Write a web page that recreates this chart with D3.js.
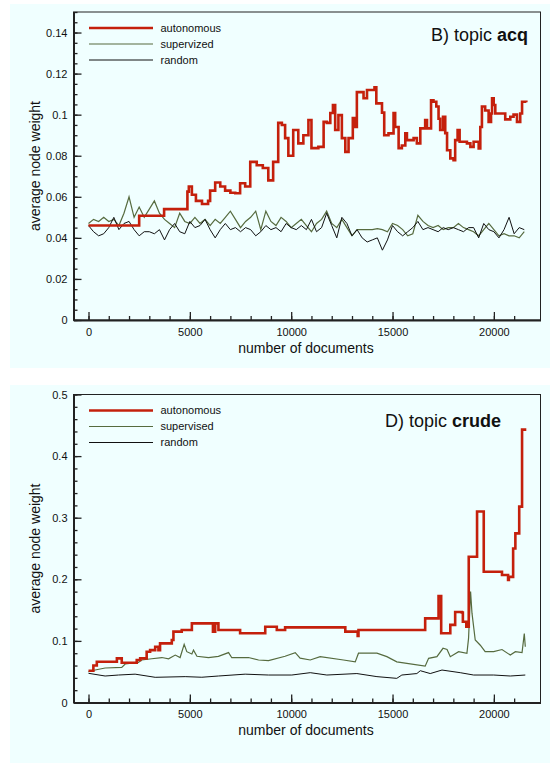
<!DOCTYPE html>
<html>
<head>
<meta charset="utf-8">
<script src="https://cdn.jsdelivr.net/npm/d3@7"></script>
<style>
  body { margin: 0; background: #fff; }
  text { font-family: "Liberation Sans", Arial, Helvetica, sans-serif; fill: #111; }
</style>
</head>
<body>
<script>
// ---- data ----

// shared x sampling for the noisy "acq" curves
var acqDocs = [0,250,500,750,1000,1250,1500,1750,2000,2250,2500,2750,3000,3250,3500,3750,4000,4250,4500,4750,
  5000,5250,5500,5750,6000,6250,6500,6750,7000,7250,7500,7750,8000,8250,8500,8750,9000,9250,9500,9750,
  10000,10250,10500,10750,11000,11250,11500,11750,12000,12250,12500,12750,13000,13250,13500,13750,14000,14250,14500,14750,
  15000,15250,15500,15750,16000,16250,16500,16750,17000,17250,17500,17750,18000,18250,18500,18750,19000,19250,19500,19750,
  20000,20250,20500,20750,21000,21250,21500];

var acqSupervised = [0.047,0.049,0.048,0.050,0.048,0.049,0.046,0.052,0.060,0.050,
  0.055,0.050,0.054,0.058,0.052,0.049,0.047,0.045,0.052,0.048,
  0.047,0.050,0.047,0.049,0.046,0.049,0.047,0.050,0.053,0.049,
  0.045,0.048,0.050,0.053,0.044,0.053,0.048,0.046,0.050,0.048,
  0.045,0.047,0.049,0.046,0.043,0.047,0.049,0.053,0.047,0.045,
  0.049,0.045,0.041,0.044,0.044,0.044,0.044,0.0445,0.044,0.043,
  0.047,0.046,0.044,0.041,0.042,0.051,0.048,0.046,0.045,0.046,
  0.044,0.045,0.045,0.047,0.045,0.044,0.043,0.041,0.044,0.047,
  0.044,0.041,0.042,0.041,0.041,0.040,0.043];

var acqRandom = [0.046,0.043,0.041,0.042,0.045,0.050,0.044,0.047,0.048,0.044,
  0.041,0.043,0.043,0.042,0.044,0.039,0.044,0.047,0.043,0.042,
  0.048,0.045,0.046,0.049,0.044,0.040,0.044,0.047,0.044,0.045,
  0.043,0.045,0.044,0.041,0.043,0.046,0.044,0.045,0.043,0.047,
  0.045,0.044,0.046,0.044,0.049,0.043,0.045,0.052,0.046,0.040,
  0.050,0.047,0.041,0.044,0.040,0.038,0.039,0.040,0.034,0.039,
  0.046,0.043,0.041,0.043,0.045,0.048,0.044,0.045,0.044,0.043,
  0.045,0.044,0.045,0.044,0.043,0.045,0.045,0.040,0.047,0.044,
  0.043,0.040,0.044,0.050,0.042,0.045,0.044];

var acqAutoDocs = [0,2500,3730,4880,4950,5100,5300,5600,5900,6000,6250,6500,6740,7000,7240,7480,7730,7980,8300,8600,
  8870,9110,9360,9540,9700,9860,10100,10350,10600,10850,11000,11340,11600,11760,11930,12060,12170,12330,12500,12670,
  12830,13040,13160,13240,13570,13740,14110,14200,14480,14590,14800,15050,15130,15300,15460,15630,15710,16040,16200,16370,
  16610,16700,16900,17020,17160,17270,17350,17490,17600,17690,17850,18010,18090,18210,18310,18670,18840,19000,19250,19330,
  19410,19570,19740,19860,19910,19990,20070,20560,20810,20970,21140,21300,21390,21600];
var acqAutonomous = [0.046,0.0508,0.054,0.0625,0.065,0.061,0.058,0.0565,0.058,0.063,0.067,0.065,0.063,0.062,0.0617,0.0666,0.065,0.077,0.0754,0.074,
  0.068,0.077,0.096,0.095,0.0886,0.080,0.0925,0.086,0.090,0.0974,0.0837,0.0843,0.0965,0.096,0.1008,0.1047,0.0925,0.0998,0.0886,0.0819,
  0.0886,0.0983,0.094,0.111,0.108,0.112,0.1133,0.1055,0.101,0.090,0.0909,0.1008,0.094,0.0837,0.085,0.0909,0.0876,0.0886,0.086,0.0933,
  0.0974,0.0933,0.107,0.1063,0.104,0.098,0.0925,0.099,0.091,0.0827,0.0787,0.0778,0.0876,0.0925,0.0868,0.086,0.0843,0.0868,0.0835,0.094,
  0.104,0.102,0.0965,0.1006,0.108,0.1047,0.1006,0.0977,0.099,0.100,0.0965,0.1006,0.1063,0.106];

var crudeAutoDocs = [0,240,410,1400,1640,2380,2550,2870,3040,3290,3450,3530,4110,4190,4600,5100,6140,6250,6410,7480,
  8720,9290,9700,12670,13280,13320,16610,17270,17400,17850,18090,18420,18470,18640,18760,19170,19500,20400,20700,20740,
  20950,21060,21250,21390,21600];
var crudeAutonomous = [0.0516,0.060,0.0662,0.0717,0.0646,0.069,0.0717,0.0825,0.085,0.0906,0.085,0.096,0.1014,0.115,0.1177,0.1285,0.115,0.1285,0.1177,0.1123,
  0.123,0.1177,0.122,0.115,0.108,0.1177,0.1366,0.173,0.1123,0.126,0.147,0.146,0.131,0.123,0.2366,0.31,0.2123,0.207,0.199,0.204,
  0.25,0.2746,0.318,0.443,0.443];

var crudeSupDocs = [0,330,820,1640,1810,2460,2630,3120,3620,3950,4280,4520,4720,4850,5100,5180,5350,5920,6410,6910,
  7070,7890,8390,8880,9700,10200,10440,10940,11430,12580,13160,13320,14230,14720,15210,16610,16780,17190,17490,17690,
  17850,18260,18670,18750,18850,18920,19080,19330,19570,19990,20400,20810,21060,21390,21500,21550];
var crudeSupervised = [0.050,0.0527,0.056,0.057,0.0625,0.065,0.069,0.071,0.073,0.071,0.077,0.073,0.0944,0.0825,0.0787,0.085,0.075,0.073,0.075,0.081,
  0.0727,0.073,0.069,0.068,0.075,0.081,0.072,0.069,0.0744,0.069,0.066,0.080,0.080,0.0744,0.066,0.059,0.0717,0.0744,0.088,0.086,
  0.0744,0.0825,0.080,0.104,0.18,0.145,0.1014,0.093,0.0825,0.0825,0.086,0.077,0.0825,0.081,0.112,0.0906];

var crudeRandDocs = [0,820,1480,2300,3290,4770,5590,6410,7730,8880,10030,10940,11760,13240,14230,15210,15460,16200,16370,16860,
  17440,18340,19000,19990,20810,21550];
var crudeRandom = [0.0474,0.043,0.0446,0.046,0.0409,0.042,0.041,0.043,0.046,0.0446,0.0446,0.0484,0.0446,0.047,0.042,0.0392,0.0446,0.047,0.0516,0.047,
  0.0527,0.0484,0.0446,0.0446,0.043,0.0446];

var xTicks = [0, 5000, 10000, 15000, 20000];
var xMinor = [0,1000,2000,3000,4000,5000,6000,7000,8000,9000,10000,11000,12000,13000,14000,15000,16000,17000,18000,19000,20000,21000];
var acqYTicks = [0, 0.02, 0.04, 0.06, 0.08, 0.1, 0.12, 0.14];
var crudeYTicks = [0, 0.1, 0.2, 0.3, 0.4, 0.5];

var acqLegend = ["autonomous", "supervized", "random"];
var crudeLegend = ["autonomous", "supervised", "random"];

// ---- styles ----
var colAuto = "#c4200c", colSup = "#566b3f", colRand = "#111";

var width = 550, height = 763;
var svg = d3.select("body").append("svg").attr("width", width).attr("height", height);

function zip(xs, ys) { return xs.map(function (x, i) { return [x, ys[i]]; }); }

function drawPanel(p) {
  var g = svg.append("g");
  g.append("rect").attr("x", 10).attr("y", p.bgTop).attr("width", 540).attr("height", p.bgH).attr("fill", "#f0ffff");

  var x = d3.scaleLinear().domain([-740, 22300]).range([73.5, 540.5]);
  var y = d3.scaleLinear().domain(p.yDomain).range([p.bottom, p.top]);

  // frame
  g.append("rect").attr("x", 73.5).attr("y", p.top).attr("width", 467).attr("height", p.bottom - p.top)
    .attr("fill", "none").attr("stroke", "#222").attr("stroke-width", 1);

  // lines
  var lineLin = d3.line().x(function (d) { return x(d[0]); }).y(function (d) { return y(d[1]); });
  var lineStep = d3.line().curve(d3.curveStepAfter).x(function (d) { return x(d[0]); }).y(function (d) { return y(d[1]); });

  g.append("path").datum(p.sup).attr("d", lineLin).attr("fill", "none").attr("stroke", colSup).attr("stroke-width", 1.2);
  g.append("path").datum(p.rand).attr("d", lineLin).attr("fill", "none").attr("stroke", colRand).attr("stroke-width", 1);
  g.append("path").datum(p.auto).attr("d", lineStep).attr("fill", "none").attr("stroke", colAuto).attr("stroke-width", 2.6);

  // axes, ticks pointing inward
  var xa = g.append("g").attr("transform", "translate(0," + p.bottom + ")")
    .call(d3.axisBottom(x).tickValues(xTicks).tickFormat(d3.format("d")).tickSize(-8).tickSizeOuter(0).tickPadding(8));
  g.append("g").attr("transform", "translate(0," + p.bottom + ")")
    .call(d3.axisBottom(x).tickValues(xMinor).tickFormat("").tickSize(-4).tickSizeOuter(0))
    .select(".domain").remove();
  var ya = g.append("g").attr("transform", "translate(73.5,0)")
    .call(d3.axisLeft(y).tickValues(p.yTicks).tickFormat(d3.format("~g")).tickSize(-8).tickSizeOuter(0).tickPadding(6));
  g.append("g").attr("transform", "translate(73.5,0)")
    .call(d3.axisLeft(y).tickValues(p.yMinor).tickFormat("").tickSize(-4).tickSizeOuter(0))
    .select(".domain").remove();

  g.selectAll(".domain").attr("stroke", "#222").attr("stroke-width", 2);
  g.selectAll(".tick line").attr("stroke", "#222").attr("stroke-width", 1.3);
  g.selectAll(".tick text").style("font-size", "11px").style("font-family", "'Liberation Sans', Arial, sans-serif").attr("fill", "#111");

  // axis titles
  g.append("text").attr("x", 306).attr("y", p.bottom + 32.5).attr("text-anchor", "middle")
    .style("font-size", "14px").text("number of documents");
  g.append("text").attr("transform", "translate(40," + ((p.top + p.bottom) / 2) + ") rotate(-90)")
    .attr("text-anchor", "middle").style("font-size", "14px").text("average node weight");

  // legend
  var cols = [colAuto, colSup, colRand], widths = [2.6, 1.2, 1];
  p.legend.forEach(function (name, i) {
    var ly = p.top + 16 + i * 16;
    g.append("line").attr("x1", 89).attr("x2", 153).attr("y1", ly).attr("y2", ly)
      .attr("stroke", cols[i]).attr("stroke-width", widths[i]);
    g.append("text").attr("x", 160.5).attr("y", ly + 3.8).style("font-size", "11px").text(name);
  });

  // title
  var t = g.append("text").attr("x", p.titleX).attr("y", p.titleY).attr("text-anchor", "end").style("font-size", "18px");
  t.append("tspan").text(p.titlePre);
  t.append("tspan").style("font-weight", "bold").text(p.titleBold);
}

drawPanel({
  bgTop: 4, bgH: 364, top: 12, bottom: 320,
  yDomain: [0, 0.15], yTicks: acqYTicks,
  yMinor: d3.range(0, 0.1501, 0.005),
  auto: zip(acqAutoDocs, acqAutonomous), sup: zip(acqDocs, acqSupervised), rand: zip(acqDocs, acqRandom),
  legend: acqLegend, titleX: 528, titleY: 41, titlePre: "B) topic ", titleBold: "acq"
});

drawPanel({
  bgTop: 385, bgH: 378, top: 394.5, bottom: 702.5,
  yDomain: [0, 0.5], yTicks: crudeYTicks,
  yMinor: d3.range(0, 0.501, 0.02),
  auto: zip(crudeAutoDocs, crudeAutonomous), sup: zip(crudeSupDocs, crudeSupervised), rand: zip(crudeRandDocs, crudeRandom),
  legend: crudeLegend, titleX: 501, titleY: 427, titlePre: "D) topic ", titleBold: "crude"
});
</script>
</body>
</html>
